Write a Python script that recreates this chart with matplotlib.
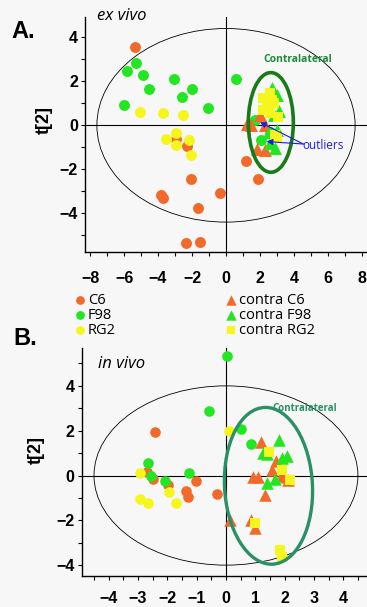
import numpy as np
import matplotlib.pyplot as plt
from matplotlib.patches import Ellipse

# ---- data: panel A (ex vivo) ----
a_c6_x = [-5.35, -2.96, -2.29, -2.08, -3.82, -3.69, -0.38, -1.67, -2.35, -1.53, 1.20, 1.88]
a_c6_y = [3.57, -0.64, -0.94, -2.45, -3.15, -3.32, -3.08, -3.75, -5.34, -5.32, -1.62, -2.43]
a_f98_x = [-5.29, -5.84, -4.86, -4.53, -5.98, -3.04, -2.02, -2.57, -1.08, 0.59, 1.71, 2.04, 2.59]
a_f98_y = [2.85, 2.48, 2.29, 1.65, 0.92, 2.10, 1.65, 1.30, 0.77, 2.09, 0.24, -0.67, -0.29]
a_rg2_x = [-5.06, -3.71, -2.53, -3.51, -2.96, -2.92, -2.18, -2.06]
a_rg2_y = [0.59, 0.55, 0.45, -0.62, -0.36, -0.90, -0.67, -1.35]
a_cc6_x = [1.22, 1.45, 2.00, 2.29, 1.84, 2.29]
a_cc6_y = [0.05, 0.00, 0.47, 0.00, -1.09, -1.12]
a_cf98_x = [2.69, 2.98, 3.14, 2.80, 2.55, 2.88, 3.00, 2.60]
a_cf98_y = [1.68, 1.38, 0.66, 0.45, -0.29, -1.05, -0.20, -0.80]
a_crg2_x = [2.59, 2.20, 2.69, 2.39, 2.59, 3.08, 2.20, 2.98, 2.80, 2.90]
a_crg2_y = [1.45, 1.23, 1.15, 0.85, 0.55, 0.39, 0.70, -0.59, 1.00, -0.45]
a_outliers = [(2.0, 0.14), (2.39, -0.74)]

# ---- data: panel B (in vivo) ----
b_c6_x = [-2.42, -2.69, -2.48, -1.99, -1.02, -1.37, -1.29, -0.32, 1.96]
b_c6_y = [1.96, 0.17, -0.17, -0.42, -0.23, -0.68, -0.95, -0.83, -0.13]
b_f98_x = [0.02, -0.57, 0.50, 0.84, -2.65, -2.57, -2.08, -1.26]
b_f98_y = [5.33, 2.89, 2.06, 1.41, 0.54, -0.02, -0.23, 0.10]
b_rg2_x = [0.10, -2.94, -1.93, -2.94, -2.65, -1.71]
b_rg2_y = [1.98, 0.13, -0.72, -1.05, -1.21, -1.21]
b_cc6_x = [1.18, 0.93, 1.10, 1.33, 1.56, 1.71, 2.13, 0.14, 0.84, 0.99]
b_cc6_y = [1.51, -0.05, -0.08, -0.87, 0.25, 0.66, -0.20, -1.99, -1.99, -2.36]
b_cf98_x = [1.82, 1.27, 2.07, 1.90, 1.67, 1.39, 1.40]
b_cf98_y = [1.58, 0.99, 0.87, 0.77, -0.17, -0.35, 0.95]
b_crg2_x = [1.48, 1.90, 2.18, 0.99, 1.84, 1.90]
b_crg2_y = [1.06, 0.25, -0.20, -2.13, -3.33, -3.63]

labels = ['C6', 'F98', 'RG2', 'contra C6', 'contra F98', 'contra RG2']
ORANGE = '#f26a2a'
GREEN = '#22e622'
YELLOW = '#f6f61c'
BG = '#f7f7f7'

TICKFONT = dict(family='Liberation Sans', weight='bold', size=11.5)

fig = plt.figure(figsize=(3.67, 6.07), dpi=100, facecolor=BG)
axA = fig.add_axes([0.2316, 0.5848, 0.7684, 0.3871], facecolor=BG)
axB = fig.add_axes([0.2226, 0.0516, 0.7774, 0.3751], facecolor=BG)


def draw(ax, data, msize):
    (c6, f98, rg2, cc6, cf98, crg2) = data
    ax.scatter(*c6, s=msize, c=ORANGE, marker='o', lw=0, label=labels[0], zorder=3)
    ax.scatter(*f98, s=msize, c=GREEN, marker='o', lw=0, label=labels[1], zorder=3)
    ax.scatter(*rg2, s=msize, c=YELLOW, marker='o', lw=0, label=labels[2], zorder=3)
    ax.scatter(*cc6, s=msize * 1.4, c=ORANGE, marker='^', lw=0, label=labels[3], zorder=3)
    ax.scatter(*cf98, s=msize * 1.4, c=GREEN, marker='^', lw=0, label=labels[4], zorder=3)
    ax.scatter(*crg2, s=msize, c=YELLOW, marker='s', lw=0, label=labels[5], zorder=3)
    ax.axhline(0, color='k', lw=0.8, zorder=1)
    ax.axvline(0, color='k', lw=0.8, zorder=1)
    for s in ['top', 'right']:
        ax.spines[s].set_visible(False)
    ax.spines['left'].set_linewidth(1.0)
    ax.spines['bottom'].set_linewidth(1.0)


draw(axA, [(a_c6_x, a_c6_y), (a_f98_x, a_f98_y), (a_rg2_x, a_rg2_y),
           (a_cc6_x, a_cc6_y), (a_cf98_x, a_cf98_y), (a_crg2_x, a_crg2_y)], 62)
draw(axB, [(b_c6_x, b_c6_y), (b_f98_x, b_f98_y), (b_rg2_x, b_rg2_y),
           (b_cc6_x, b_cc6_y), (b_cf98_x, b_cf98_y), (b_crg2_x, b_crg2_y)], 58)

# panel A
axA.set_xlim(-8.3, 8.3)
axA.set_ylim(-5.76, 4.92)
axA.add_patch(Ellipse((0, 0), 15.2, 8.8, fill=False, ec='k', lw=0.6, zorder=2))
axA.add_patch(Ellipse((2.64, 0.13), 2.65, 4.53, fill=False, ec='#197a19', lw=2.6, zorder=4))
axA.text(4.22, 3.01, 'Contralateral', color='#1f8a3a', fontsize=7.5, weight='bold',
         family='Open Sans', ha='center', va='center')
axA.set_xticks(np.arange(-8, 9, 2))
axA.set_xticks(np.arange(-8, 9, 1), minor=True)
axA.set_yticks([-4, -2, 0, 2, 4])
axA.set_yticks(np.arange(-5, 5, 1), minor=True)
axA.text(-7.6, 4.97, 'ex vivo', style='italic', family='Open Sans', fontsize=12,
         ha='left', va='center', clip_on=False)
for px, py in a_outliers:
    axA.annotate('', xy=(px, py), xytext=(4.55, -0.85),
                 arrowprops=dict(arrowstyle='-|>', color='#1c1ce8', lw=0.8,
                                 mutation_scale=9, shrinkA=0, shrinkB=0), zorder=5)
axA.text(4.5, -0.9, 'outliers', color='#1c1ce8', fontsize=8.5, family='Open Sans',
         ha='left', va='center')

# panel B
axB.set_xlim(-4.92, 4.81)
axB.set_ylim(-4.47, 5.69)
axB.add_patch(Ellipse((0, 0), 9.0, 8.0, fill=False, ec='k', lw=0.6, zorder=2))
axB.add_patch(Ellipse((1.45, -0.46), 3.0, 7.0, angle=2, fill=False, ec='#2a9068', lw=2.4, zorder=4))
axB.text(2.7, 3.0, 'Contralateral', color='#2a9068', fontsize=7, weight='bold',
         family='Open Sans', ha='center', va='center')
axB.set_xticks(np.arange(-4, 5, 1))
axB.set_xticks(np.arange(-4.5, 5, 0.5), minor=True)
axB.set_yticks([-4, -2, 0, 2, 4])
axB.set_yticks(np.arange(-4, 6, 1), minor=True)
axB.text(-4.36, 4.98, 'in vivo', style='italic', family='Open Sans', fontsize=12,
         ha='left', va='center')

for ax in (axA, axB):
    ax.tick_params(axis='both', which='both', direction='out', length=3, width=0.8)
    ax.tick_params(axis='y', which='major', pad=2)
    for lab in ax.get_xticklabels() + ax.get_yticklabels():
        lab.set_fontproperties(TICKFONT)
    ax.set_ylabel('t[2]', family='Liberation Sans', weight='bold', fontsize=13)

axA.tick_params(axis='x', which='major', pad=11)
axB.tick_params(axis='x', which='major', pad=8)
axA.yaxis.set_label_coords(-0.115, 0.56)
axB.yaxis.set_label_coords(-0.13, 0.55)

fig.text(0.063, 0.948, 'A.', family='Liberation Sans', weight='bold', fontsize=17,
         ha='center', va='center')
fig.text(0.068, 0.443, 'B.', family='Liberation Sans', weight='bold', fontsize=17,
         ha='center', va='center')

handles, labs = axA.get_legend_handles_labels()
leg = fig.legend(handles, labs, ncol=2, loc='upper left', bbox_to_anchor=(0.178, 0.53),
                 frameon=False, handletextpad=0.05, columnspacing=7.4, labelspacing=0.0,
                 handlelength=1.0, borderpad=0, prop=dict(family='Open Sans', size=10.5),
                 markerscale=0.8)

fig.savefig('out.png', dpi=100, facecolor=BG)
